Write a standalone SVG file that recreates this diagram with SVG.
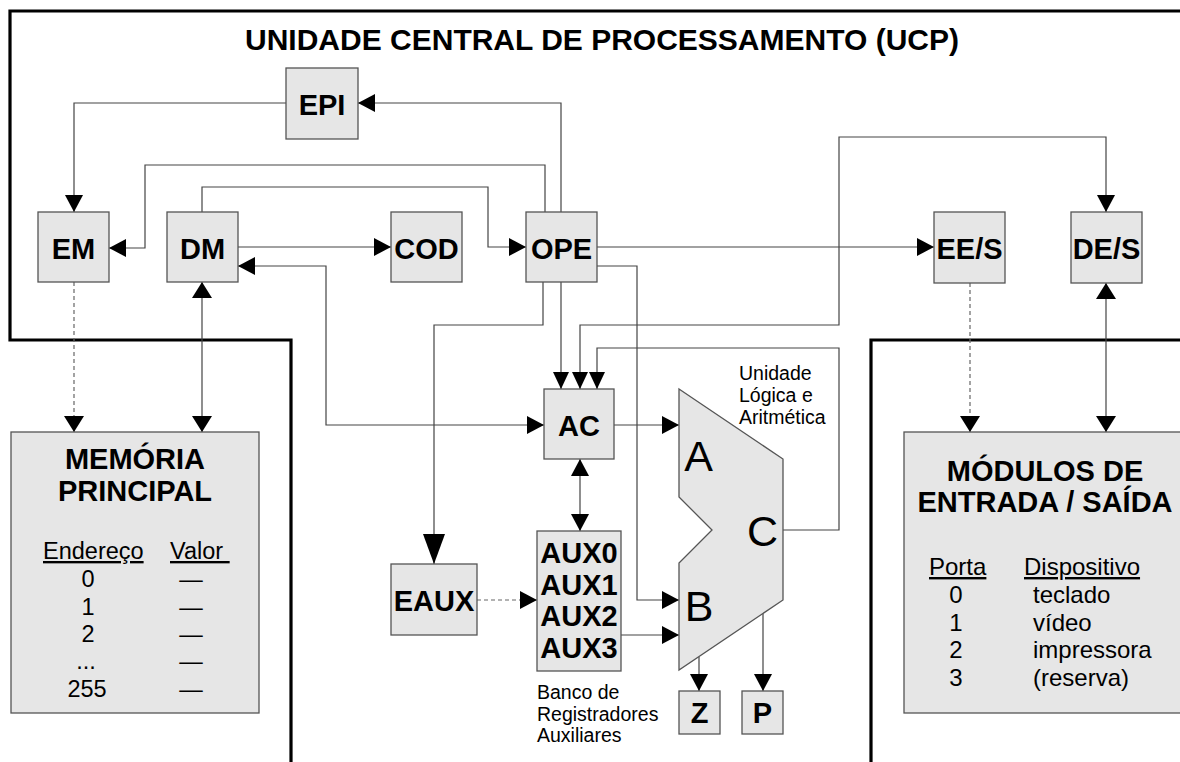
<svg xmlns="http://www.w3.org/2000/svg" width="1180" height="762" viewBox="0 0 1180 762">
<style>
text{font-family:"Liberation Sans",Arial,Helvetica,sans-serif;fill:#000}
.box{fill:#e6e6e6;stroke:#555;stroke-width:1.3}
.lbl{font-size:29px;font-weight:bold;text-anchor:middle}
.big{font-size:29px;font-weight:bold;text-anchor:middle}
.reg{font-size:23.5px}
.io{font-size:24px}
.small{font-size:19.5px}
.alu{font-size:43px;text-anchor:middle}
.c{text-anchor:middle}
.u{text-decoration:underline}
.ln{fill:none;stroke:#444;stroke-width:1.2}
.dash{fill:none;stroke:#666;stroke-width:1.2;stroke-dasharray:4,3}
.frame{fill:none;stroke:#000;stroke-width:3.2}
</style>
<defs>
<marker id="ah" markerUnits="userSpaceOnUse" markerWidth="17" markerHeight="18" refX="17" refY="9" orient="auto-start-reverse"><path d="M0,0 L17,9 L0,18 Z" fill="#000"/></marker>
<marker id="am" markerUnits="userSpaceOnUse" markerWidth="16" markerHeight="20" refX="16" refY="10" orient="auto-start-reverse"><path d="M0,0 L16,10 L0,20 Z" fill="#000"/></marker>
<marker id="ab" markerUnits="userSpaceOnUse" markerWidth="30" markerHeight="22" refX="30" refY="11" orient="auto"><path d="M0,0 L30,11 L0,22 Z" fill="#000"/></marker>
<marker id="as" markerUnits="userSpaceOnUse" markerWidth="17" markerHeight="16" refX="17" refY="8" orient="auto"><path d="M0,0 L17,8 L0,16 Z" fill="#000"/></marker>
</defs>

<g id="frame">
<path class="frame" d="M1182,11 H10 V340 H291 V764"/>
<path class="frame" d="M1182,340 H871 V764"/>
<text x="602" y="50" style="font-size:30px;font-weight:bold;text-anchor:middle">UNIDADE CENTRAL DE PROCESSAMENTO (UCP)</text>
</g>

<g id="connectors">
<path class="ln" d="M561,212 V103 H358" marker-end="url(#ah)"/>
<path class="ln" d="M286,103 H74 V212" marker-end="url(#ah)"/>
<path class="ln" d="M545,212 V165 H145 V248 H109" marker-end="url(#ah)"/>
<path class="ln" d="M202,212 V187 H488 V247 H526" marker-end="url(#ah)"/>
<path class="ln" d="M238,247 H391" marker-end="url(#ah)"/>
<path class="ln" d="M238,266 H326 V425 H544" marker-start="url(#ah)" marker-end="url(#ah)"/>
<path class="ln" d="M202,282 V432" marker-start="url(#am)" marker-end="url(#am)"/>
<path class="dash" d="M74,282 V432" marker-end="url(#am)"/>
<path class="ln" d="M543,282 V325 H434 V564" marker-end="url(#ab)"/>
<path class="ln" d="M561,282 V389" marker-end="url(#as)"/>
<path class="ln" d="M1106,212 V137 H839 V325 H580 V389" marker-start="url(#ah)" marker-end="url(#as)"/>
<path class="ln" d="M783,530 H839 V348 H597 V389" marker-end="url(#as)"/>
<path class="ln" d="M597,247 H934" marker-end="url(#ah)"/>
<path class="ln" d="M597,266 H637 V600 H679" marker-end="url(#ah)"/>
<path class="dash" d="M970,283 V432" marker-end="url(#am)"/>
<path class="ln" d="M1106,283 V432" marker-start="url(#am)" marker-end="url(#am)"/>
<path class="ln" d="M614,425 H679" marker-end="url(#ah)"/>
<path class="ln" d="M580,459 V531" marker-start="url(#ah)" marker-end="url(#ah)"/>
<path class="dash" d="M477,600 H537" marker-end="url(#ah)"/>
<path class="ln" d="M621,635 H679" marker-end="url(#ah)"/>
<path class="ln" d="M699,657 V691" marker-end="url(#ah)"/>
<path class="ln" d="M763,614 V691" marker-end="url(#ah)"/>
</g>

<g id="EPI"><rect class="box" x="286" y="68" width="72" height="71"/><text class="lbl" x="322" y="115">EPI</text></g>
<g id="EM"><rect class="box" x="38" y="212" width="71" height="70"/><text class="lbl" x="73.5" y="259">EM</text></g>
<g id="DM"><rect class="box" x="167" y="212" width="71" height="70"/><text class="lbl" x="202.5" y="259">DM</text></g>
<g id="COD"><rect class="box" x="391" y="212" width="71" height="70"/><text class="lbl" x="426.5" y="259">COD</text></g>
<g id="OPE"><rect class="box" x="526" y="212" width="71" height="70"/><text class="lbl" x="561.5" y="259">OPE</text></g>
<g id="EES"><rect class="box" x="934" y="212" width="71" height="71"/><text class="lbl" x="969.5" y="259">EE/S</text></g>
<g id="DES"><rect class="box" x="1071" y="212" width="71" height="71"/><text class="lbl" x="1106.5" y="259">DE/S</text></g>
<g id="AC"><rect class="box" x="544" y="389" width="70" height="70"/><text class="lbl" x="579" y="435.5">AC</text></g>
<g id="EAUX"><rect class="box" x="391" y="564" width="86" height="71"/><text class="lbl" x="434" y="611">EAUX</text></g>
<g id="AUX">
<rect class="box" x="537" y="531" width="84" height="140"/>
<text class="lbl" x="579" y="563">AUX0</text>
<text class="lbl" x="579" y="595">AUX1</text>
<text class="lbl" x="579" y="626">AUX2</text>
<text class="lbl" x="579" y="658">AUX3</text>
<text class="small" x="537" y="699">Banco de</text>
<text class="small" x="537" y="721">Registradores</text>
<text class="small" x="537" y="742">Auxiliares</text>
</g>
<g id="ULA">
<polygon class="box" points="679,389 783,459 783,600 679,670 679,563 712,530 679,497"/>
<text class="alu" x="698.5" y="471">A</text>
<text class="alu" x="699" y="621">B</text>
<text class="alu" x="762.5" y="546">C</text>
<text class="small" x="739" y="380">Unidade</text>
<text class="small" x="739" y="402">Lógica e</text>
<text class="small" x="739" y="424">Aritmética</text>
</g>
<g id="Z"><rect class="box" x="679" y="691" width="41" height="43"/><text class="lbl" x="699.5" y="723">Z</text></g>
<g id="P"><rect class="box" x="742" y="691" width="41" height="43"/><text class="lbl" x="762.5" y="723">P</text></g>

<g id="memoria">
<rect class="box" x="11" y="432" width="248" height="281"/>
<text class="big" x="135" y="469">MEMÓRIA</text>
<text class="big" x="135" y="501">PRINCIPAL</text>
<text class="reg u" x="43" y="559">Endereço</text>
<text class="reg u" x="170" y="559" xml:space="preserve">Valor </text>
<text class="reg c" x="88" y="587">0</text>
<text class="reg c" x="88" y="615">1</text>
<text class="reg c" x="88" y="642">2</text>
<text class="reg c" x="86" y="669">...</text>
<text class="reg c" x="87" y="697">255</text>
<text class="reg c" x="191" y="587">—</text>
<text class="reg c" x="191" y="615">—</text>
<text class="reg c" x="191" y="642">—</text>
<text class="reg c" x="191" y="669">—</text>
<text class="reg c" x="191" y="697">—</text>
</g>

<g id="modulos">
<rect class="box" x="904" y="432" width="290" height="281"/>
<text class="big" x="1045" y="481">MÓDULOS DE</text>
<text class="big" x="1045" y="512">ENTRADA / SAÍDA</text>
<text class="io u" x="929" y="575">Porta</text>
<text class="io u" x="1024" y="575">Dispositivo</text>
<text class="io c" x="956" y="603">0</text>
<text class="io c" x="956" y="630.5">1</text>
<text class="io c" x="956" y="658">2</text>
<text class="io c" x="956" y="685.5">3</text>
<text class="io" x="1033" y="603">teclado</text>
<text class="io" x="1033" y="630.5">vídeo</text>
<text class="io" x="1033" y="658">impressora</text>
<text class="io" x="1033" y="685.5">(reserva)</text>
</g>
</svg>
